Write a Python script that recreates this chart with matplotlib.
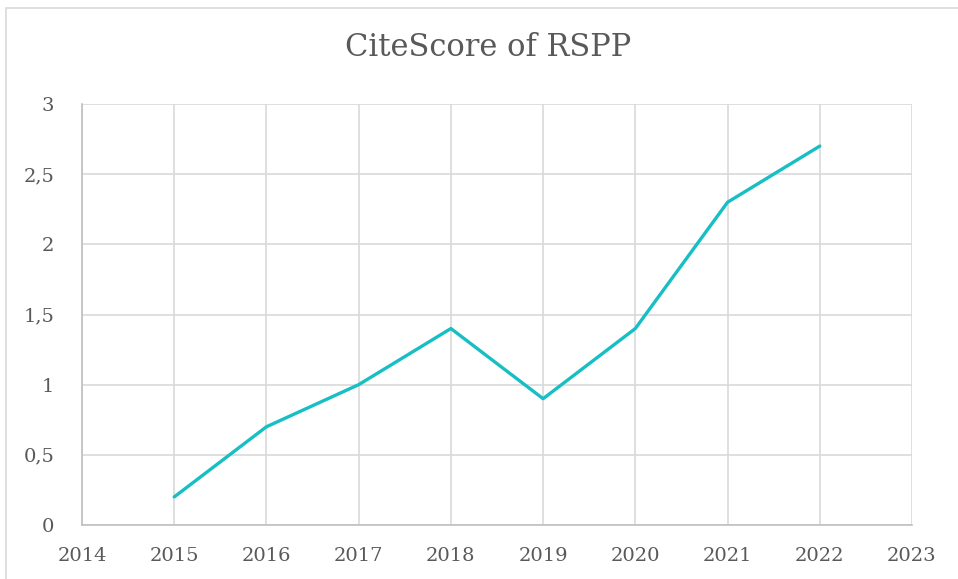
import matplotlib.pyplot as plt
from matplotlib.patches import Rectangle
from matplotlib.ticker import FuncFormatter

years = [2015, 2016, 2017, 2018, 2019, 2020, 2021, 2022]
citescore = [0.2, 0.7, 1.0, 1.4, 0.9, 1.4, 2.3, 2.7]
x_ticks = list(range(2014, 2024))
y_ticks = [0, 0.5, 1, 1.5, 2, 2.5, 3]

plt.rcParams['font.family'] = ['DejaVu Serif']
W, H = 958, 579
fig = plt.figure(figsize=(W / 100, H / 100), dpi=100)

# outer chart frame (cut off at right/bottom like the screenshot)
fig.patches.append(Rectangle((6 / W, -0.1), 1.2, 1 - 8 / H + 0.1, transform=fig.transFigure,
                             fill=False, edgecolor='#d9d9d9', linewidth=1.2))

ax = fig.add_axes([82 / W, 1 - 525 / H, (912 - 82) / W, (525 - 104) / H])
ax.plot(years, citescore, color='#17bfc4', linewidth=2.4, solid_capstyle='round', zorder=3)

ax.set_xlim(2014, 2023)
ax.set_ylim(0, 3)
ax.set_xticks(x_ticks)
ax.set_yticks(y_ticks)
ax.yaxis.set_major_formatter(FuncFormatter(lambda v, p: f'{v:g}'.replace('.', ',')))
ax.grid(True, color='#d9d9d9', linewidth=1.2)
ax.set_axisbelow(True)
for s in ['top', 'right']:
    ax.spines[s].set_visible(False)
for s in ['bottom', 'left']:
    ax.spines[s].set_color('#bfbfbf')
    ax.spines[s].set_linewidth(1.2)
ax.tick_params(length=0, labelsize=14, labelcolor='#595959')
ax.tick_params(axis='x', pad=16)
ax.tick_params(axis='y', pad=20)

fig.text(488 / W, 1 - 47 / H, 'CiteScore of RSPP', ha='center', va='center',
         fontsize=22, color='#595959')

fig.savefig('out.png', dpi=100)
